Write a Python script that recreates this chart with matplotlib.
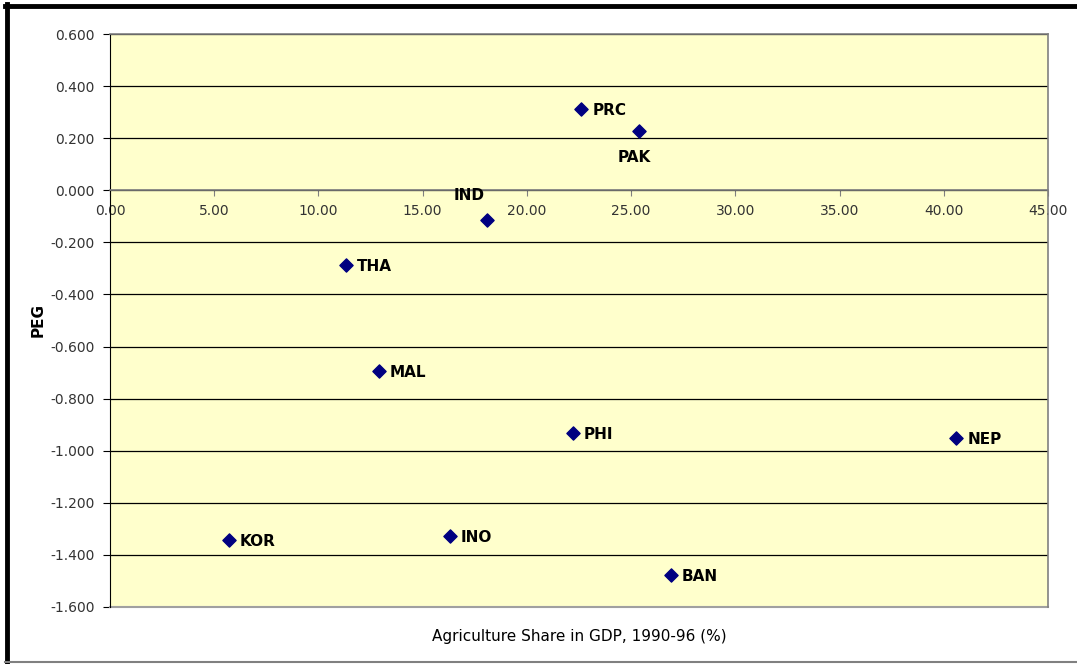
import numpy as np
import matplotlib
matplotlib.use('Agg')
import matplotlib.pyplot as plt
from matplotlib.ticker import FormatStrFormatter, FuncFormatter
from matplotlib.lines import Line2D

countries = ['PRC', 'PAK', 'IND', 'THA', 'MAL', 'PHI', 'NEP', 'KOR', 'INO', 'BAN']
agri_share = [22.6, 25.4, 18.1, 11.3, 12.9, 22.2, 40.6, 5.7, 16.3, 26.9]
peg = [0.312, 0.229, -0.114, -0.287, -0.693, -0.931, -0.951, -1.343, -1.327, -1.477]

plt.rcParams['font.family'] = ['DejaVu Sans']

fig = plt.figure(figsize=(10.77, 6.64), dpi=100)
ax = fig.add_axes([110 / 1077, 1 - 607 / 664, 938 / 1077, 573 / 664])
ax.set_facecolor('#FFFFCC')

ax.scatter(agri_share, peg, marker='D', s=45, color='#000080', zorder=5)

for c, x, y in zip(countries, agri_share, peg):
    if c == 'PAK':
        ax.annotate(c, (x, y), xytext=(-4, -14), textcoords='offset points',
                    ha='center', va='top', fontsize=11, fontweight='bold')
    elif c == 'IND':
        ax.annotate(c, (x, y), xytext=(-13, 12), textcoords='offset points',
                    ha='center', va='bottom', fontsize=11, fontweight='bold')
    else:
        ax.annotate(c, (x, y), xytext=(8, -1), textcoords='offset points',
                    ha='left', va='center', fontsize=11, fontweight='bold')

ax.set_xlim(0, 45)
ax.set_ylim(-1.6, 0.6)
ax.set_xticks(np.arange(0, 46, 5))
ax.set_yticks(np.arange(-1.6, 0.61, 0.2))
ax.xaxis.set_major_formatter(FormatStrFormatter('%.2f'))
ax.yaxis.set_major_formatter(FuncFormatter(lambda v, p: '%.3f' % (0.0 if abs(v) < 1e-9 else v)))
ax.grid(axis='y', color='black', linewidth=0.9)
ax.set_axisbelow(True)

ax.spines['bottom'].set_position(('data', 0))
ax.spines['bottom'].set_color('#808080')
ax.spines['bottom'].set_linewidth(1.2)
ax.spines['left'].set_color('black')
for s in ['top', 'right']:
    ax.spines[s].set_color('#808080')
    ax.spines[s].set_linewidth(1.2)
ax.tick_params(axis='x', direction='out', length=4, colors='#808080',
               labelcolor='#333333', labelsize=10, pad=6)
ax.tick_params(axis='y', direction='out', length=5, labelcolor='#333333',
               labelsize=10, pad=6)

# bottom border of plot area
ax.add_line(Line2D([0, 1], [0, 0], transform=ax.transAxes, color='#A0A0A0',
                   linewidth=1.5, clip_on=False))

fig.text(38 / 1077, 1 - 320 / 664, 'PEG', rotation=90, ha='center', va='center',
         fontsize=11, fontweight='bold')
fig.text(579 / 1077, 1 - 636 / 664, 'Agriculture Share in GDP, 1990-96 (%)',
         ha='center', va='center', fontsize=11)

# chart frame
fig.add_artist(Line2D([5 / 1077, 1], [1 - 6 / 664, 1 - 6 / 664], color='black',
                      linewidth=3.5, transform=fig.transFigure))
fig.add_artist(Line2D([7 / 1077, 7 / 1077], [1 - 4 / 664, 0], color='black',
                      linewidth=3.5, transform=fig.transFigure))
fig.add_artist(Line2D([5 / 1077, 1], [1 - 662 / 664, 1 - 662 / 664], color='#808080',
                      linewidth=1.5, transform=fig.transFigure))

fig.savefig('out.png', dpi=100)
